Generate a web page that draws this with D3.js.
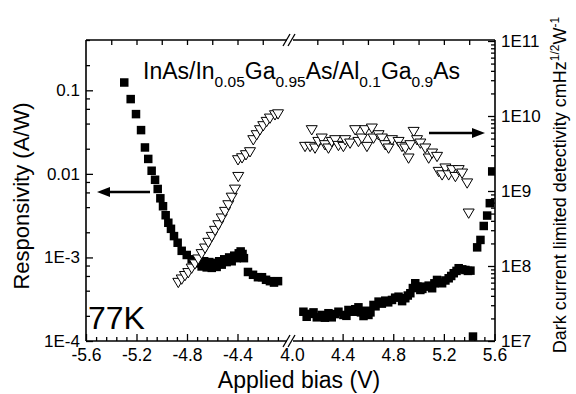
<!DOCTYPE html>
<html>
<head>
<meta charset="utf-8">
<script src="https://cdn.jsdelivr.net/npm/d3@7"></script>
<style>
  body { margin: 0; background: #fff; }
  text { font-family: Arial, "Liberation Sans", sans-serif; fill: #000; }
</style>
</head>
<body>
<div id="chart"></div>
<script>
// responsivity (A/W), filled squares, left axis
var respLeftV = [-5.297, -5.246, -5.204, -5.164, -5.133, -5.107, -5.080, -5.053, -5.032, -5.011,
    -4.990, -4.969, -4.948, -4.927, -4.903, -4.874, -4.842, -4.802, -4.763, -4.723,
    -4.684, -4.664, -4.644, -4.624, -4.604, -4.584, -4.565, -4.545, -4.525, -4.505,
    -4.486, -4.466, -4.446, -4.426, -4.406, -4.390, -4.375, -4.360, -4.349,
    -4.317, -4.277, -4.238, -4.206, -4.174, -4.143, -4.111, -4.079];
var respLeftR = [0.124, 0.0785, 0.0519, 0.0334, 0.0207, 0.0151, 0.0109, 0.0085, 0.0066, 0.0051,
    0.0041, 0.0032, 0.0026, 0.0022, 0.0018, 0.0015, 0.0012, 0.00107, 0.00095, 0.00085,
    0.00078, 0.00090, 0.00076, 0.00088, 0.00075, 0.00086, 0.00077, 0.00090, 0.00082, 0.00095,
    0.00088, 0.00100, 0.00090, 0.00105, 0.00098, 0.00112, 0.00118, 0.00110, 0.00098,
    0.00067, 0.00062, 0.00058, 0.00058, 0.00054, 0.00052, 0.00050, 0.00052];

var respRightV = [4.090, 4.116, 4.143, 4.170, 4.196, 4.235, 4.260, 4.288, 4.314, 4.340,
    4.367, 4.406, 4.430, 4.446, 4.486, 4.500, 4.525, 4.545, 4.565, 4.585,
    4.604, 4.620, 4.644, 4.660, 4.684, 4.710, 4.737, 4.760, 4.790, 4.815,
    4.842, 4.870, 4.895, 4.915, 4.935, 4.955, 4.974, 4.990, 5.014, 5.030,
    5.053, 5.080, 5.107, 5.125, 5.146, 5.166, 5.186, 5.212, 5.238, 5.258,
    5.278, 5.300, 5.317, 5.345, 5.370, 5.390, 5.410,
    5.430, 5.463, 5.489, 5.515, 5.542, 5.563, 5.582];
var respRightR = [2.24e-4, 1.95e-4, 2.11e-4, 2.20e-4, 1.92e-4, 2.05e-4, 1.90e-4, 2.15e-4, 1.92e-4, 2.10e-4,
    2.24e-4, 2.05e-4, 2.00e-4, 2.35e-4, 2.24e-4, 2.40e-4, 2.53e-4, 2.20e-4, 1.99e-4, 2.30e-4,
    2.05e-4, 2.20e-4, 2.70e-4, 2.60e-4, 2.96e-4, 2.80e-4, 3.04e-4, 2.90e-4, 3.10e-4, 3.30e-4,
    3.39e-4, 3.00e-4, 3.25e-4, 3.50e-4, 3.73e-4, 4.30e-4, 4.91e-4, 4.50e-4, 4.08e-4, 4.20e-4,
    4.47e-4, 4.60e-4, 4.28e-4, 4.90e-4, 5.38e-4, 5.00e-4, 4.91e-4, 5.30e-4, 5.63e-4, 6.00e-4,
    6.47e-4, 6.90e-4, 7.43e-4, 7.20e-4, 7.08e-4, 6.90e-4, 6.95e-4,
    1.13e-4, 1.32e-3, 1.62e-3, 2.38e-3, 3.17e-3, 4.46e-3, 1.07e-2];

// detectivity (cmHz^1/2 W^-1), open down triangles, right axis
var detLeftV = [-4.869, -4.842, -4.816, -4.790, -4.763, -4.737, -4.711, -4.684, -4.657, -4.631,
    -4.604, -4.578, -4.552, -4.525, -4.499, -4.473, -4.446, -4.420, -4.394,
    -4.396, -4.364, -4.333, -4.301, -4.275, -4.248, -4.222, -4.196, -4.169, -4.143, -4.103, -4.079];
var detLeftD = [6.0e7, 6.65e7, 7.4e7, 8.1e7, 9.3e7, 1.06e8, 1.23e8, 1.45e8, 1.72e8, 2.05e8,
    2.46e8, 2.96e8, 3.52e8, 4.33e8, 5.3e8, 6.5e8, 8.2e8, 1.05e9, 1.55e9,
    2.59e9, 2.75e9, 3.02e9, 3.31e9, 4.79e9, 5.58e9, 6.5e9, 7.36e9, 8.4e9, 9.3e9, 1.03e10, 1.06e10];

var detRightV = [4.103, 4.143, 4.156, 4.182, 4.208, 4.235, 4.261, 4.288, 4.314, 4.341,
    4.367, 4.406, 4.420, 4.459, 4.499, 4.525, 4.552, 4.578, 4.592, 4.631,
    4.644, 4.684, 4.710, 4.737, 4.763, 4.790, 4.842, 4.869, 4.895, 4.921,
    4.935, 4.961, 4.988, 5.014, 5.053, 5.080, 5.107, 5.146, 5.159, 5.186,
    5.212, 5.238, 5.265, 5.291, 5.317, 5.344, 5.384, 5.396];
var detRightD = [3.90e9, 3.90e9, 6.51e9, 3.71e9, 4.54e9, 5.04e9, 4.11e9, 3.71e9, 4.54e9, 4.79e9,
    4.02e9, 3.90e9, 4.79e9, 4.32e9, 6.51e9, 4.54e9, 5.04e9, 6.51e9, 3.90e9, 6.85e9,
    5.04e9, 5.58e9, 5.04e9, 4.11e9, 3.71e9, 4.79e9, 4.54e9, 3.90e9, 3.71e9, 2.73e9,
    4.11e9, 6.18e9, 4.79e9, 4.32e9, 3.71e9, 2.73e9, 3.18e9, 2.87e9, 1.81e9, 1.63e9,
    2.01e9, 1.63e9, 1.91e9, 1.55e9, 1.91e9, 1.72e9, 1.27e9, 5.04e8];

// ticks
var xTicksLeft = [-5.6, -5.2, -4.8, -4.4];
var xTicksRight = [4.0, 4.4, 4.8, 5.2, 5.6];
var yLeftTicks = [1e-4, 1e-3, 1e-2, 1e-1];
var yLeftLabels = ["1E-4", "1E-3", "0.01", "0.1"];
var yRightTicks = [1e7, 1e8, 1e9, 1e10, 1e11];
var yRightLabels = ["1E7", "1E8", "1E9", "1E10", "1E11"];

var W = 576, H = 394;
var pLeft = 86, pRight = 495, pTop = 40, pBottom = 341;

var svg = d3.select("#chart").append("svg")
    .attr("width", W)
    .attr("height", H);

svg.append("rect").attr("width", W).attr("height", H).attr("fill", "#fff");

// broken x axis: two linear pieces
var xL = d3.scaleLinear().domain([-5.6, -4.0]).range([86, 288]);
var xR = d3.scaleLinear().domain([4.0, 5.6]).range([292, 494.5]);
function xs(v) { return v < 0 ? xL(v) : xR(v); }

var yL = d3.scaleLog().domain([1e-4, 0.4]).range([pBottom, pTop]);
var yR = d3.scaleLog().domain([1e7, 1e11]).range([pBottom, 41]);

function fmt1(d) { return d.toFixed(1); }
function minorSteps(a, b, step, majors) {
    var out = [];
    for (var i = 1; a + i * step < b - 1e-6; i++) {
        var v = +(a + i * step).toFixed(2);
        if (majors.indexOf(v) < 0) out.push(v);
    }
    return out;
}

var axes = svg.append("g").attr("class", "axes");

function styleAxis(g, fs) {
    g.select(".domain").remove();
    g.selectAll("line").attr("stroke", "#000").attr("stroke-width", 1.3);
    g.selectAll("text").style("font-size", fs + "px").attr("fill", "#000")
        .style("font-family", "Arial, 'Liberation Sans', sans-serif");
}

// bottom axis
axes.append("g").attr("transform", "translate(0," + pBottom + ")")
    .call(d3.axisBottom(xL).tickValues(xTicksLeft).tickSize(-7).tickPadding(8).tickFormat(fmt1))
    .call(styleAxis, 17.5);
axes.append("g").attr("class", "xr").attr("transform", "translate(0," + pBottom + ")")
    .call(d3.axisBottom(xR).tickValues(xTicksRight).tickSize(-7).tickPadding(8).tickFormat(fmt1))
    .call(styleAxis, 17.5);
axes.append("g").attr("transform", "translate(0," + pBottom + ")")
    .call(d3.axisBottom(xL).tickValues(minorSteps(-5.6, -4.0, 0.08, xTicksLeft)).tickSize(-4).tickFormat(""))
    .call(styleAxis, 17);
axes.append("g").attr("transform", "translate(0," + pBottom + ")")
    .call(d3.axisBottom(xR).tickValues(minorSteps(4.0, 5.6, 0.08, xTicksRight)).tickSize(-4).tickFormat(""))
    .call(styleAxis, 17);
// the 4.0 label sits on the break, drop its tick
axes.select("g.xr").selectAll("g.tick").filter(function(d) { return d === 4.0; }).select("line").remove();

// top axis
axes.append("g").attr("transform", "translate(0," + pTop + ")")
    .call(d3.axisTop(xL).tickValues(minorSteps(-5.6, -4.0, 0.2, [])).tickSize(-5).tickFormat(""))
    .call(styleAxis, 17);
axes.append("g").attr("transform", "translate(0," + pTop + ")")
    .call(d3.axisTop(xR).tickValues(minorSteps(4.0, 5.6, 0.2, [])).tickSize(-5).tickFormat(""))
    .call(styleAxis, 17);

// left axis
var leftMinor = [];
[1e-4, 1e-3, 1e-2, 1e-1].forEach(function(p) {
    [2, 4, 6, 8].forEach(function(m) { if (p * m <= 0.4) leftMinor.push(p * m); });
});
axes.append("g").attr("transform", "translate(" + pLeft + ",0)")
    .call(d3.axisLeft(yL).tickValues(yLeftTicks).tickSize(-7).tickPadding(6)
        .tickFormat(function(d, i) { return yLeftLabels[i]; }))
    .call(styleAxis, 17);
axes.append("g").attr("transform", "translate(" + pLeft + ",0)")
    .call(d3.axisLeft(yL).tickValues(leftMinor).tickSize(-4).tickFormat(""))
    .call(styleAxis, 17);

// right axis
var rightMinor = [];
[1e7, 1e8, 1e9, 1e10].forEach(function(p) {
    for (var m = 2; m <= 9; m++) rightMinor.push(p * m);
});
axes.append("g").attr("transform", "translate(" + pRight + ",0)")
    .call(d3.axisRight(yR).tickValues(yRightTicks).tickSize(-7).tickPadding(6)
        .tickFormat(function(d, i) { return yRightLabels[i]; }))
    .call(styleAxis, 17);
axes.append("g").attr("transform", "translate(" + pRight + ",0)")
    .call(d3.axisRight(yR).tickValues(rightMinor).tickSize(-4).tickFormat(""))
    .call(styleAxis, 17);

// frame with gaps at the break
var frame = axes.append("g").attr("stroke", "#000").attr("stroke-width", 1.6).attr("fill", "none");
frame.append("line").attr("x1", pLeft).attr("x2", pLeft).attr("y1", pTop).attr("y2", pBottom);
frame.append("line").attr("x1", pRight).attr("x2", pRight).attr("y1", pTop).attr("y2", pBottom);
[pTop, pBottom].forEach(function(yy) {
    frame.append("line").attr("x1", pLeft).attr("x2", 287).attr("y1", yy).attr("y2", yy);
    frame.append("line").attr("x1", 293).attr("x2", pRight).attr("y1", yy).attr("y2", yy);
    frame.append("line").attr("x1", 283).attr("x2", 290).attr("y1", yy + 6).attr("y2", yy - 6).attr("stroke-width", 1.3);
    frame.append("line").attr("x1", 288).attr("x2", 295).attr("y1", yy + 6).attr("y2", yy - 6).attr("stroke-width", 1.3);
});

// data
svg.append("clipPath").attr("id", "clip")
    .append("rect").attr("x", pLeft).attr("y", pTop).attr("width", pRight - pLeft).attr("height", pBottom - pTop);
var plot = svg.append("g").attr("clip-path", "url(#clip)");

var resp = respLeftV.map(function(v, i) { return {x: v, y: respLeftR[i]}; })
    .concat(respRightV.map(function(v, i) { return {x: v, y: respRightR[i]}; }));
var det = detLeftV.map(function(v, i) { return {x: v, y: detLeftD[i]}; })
    .concat(detRightV.map(function(v, i) { return {x: v, y: detRightD[i]}; }));

var sq = 8.5;
plot.selectAll("rect.resp").data(resp).enter().append("rect")
    .attr("class", "resp")
    .attr("x", function(d) { return xs(d.x) - sq / 2; })
    .attr("y", function(d) { return yL(d.y) - sq / 2; })
    .attr("width", sq).attr("height", sq)
    .attr("fill", "#000");

var tri = "M-5.5,-4.3L5.5,-4.3L0,5Z";
plot.selectAll("path.det").data(det).enter().append("path")
    .attr("class", "det")
    .attr("d", tri)
    .attr("transform", function(d) { return "translate(" + xs(d.x) + "," + yR(d.y) + ")"; })
    .attr("fill", "#fff")
    .attr("stroke", "#000")
    .attr("stroke-width", 1);

// arrows
var arr = svg.append("g");
arr.append("line").attr("x1", 150).attr("x2", 106).attr("y1", 192).attr("y2", 192)
    .attr("stroke", "#000").attr("stroke-width", 2.5);
arr.append("path").attr("d", "M97,192L110,187L110,197Z").attr("fill", "#000");
arr.append("line").attr("x1", 429).attr("x2", 476).attr("y1", 133).attr("y2", 133)
    .attr("stroke", "#000").attr("stroke-width", 2.5);
arr.append("path").attr("d", "M485,133L472,128L472,138Z").attr("fill", "#000");

// title
var title = svg.append("text").attr("x", 143).attr("y", 79).style("font-size", "23px");
var parts = [["InAs/In", 0], ["0.05", 1], ["Ga", 0], ["0.95", 1], ["As/Al", 0], ["0.1", 1], ["Ga", 0], ["0.9", 1], ["As", 0]];
parts.forEach(function(p, i) {
    var t = title.append("tspan").text(p[0]);
    if (p[1]) t.style("font-size", "15.5px").attr("dy", 7.5);
    else if (i > 0) t.attr("dy", -7.5);
});

svg.append("text").attr("x", 88).attr("y", 329).style("font-size", "32px").text("77K");

// axis titles
svg.append("text").attr("transform", "translate(29,196) rotate(-90)")
    .attr("text-anchor", "middle").style("font-size", "22px").text("Responsivity (A/W)");
svg.append("text").attr("x", 299).attr("y", 388)
    .attr("text-anchor", "middle").style("font-size", "23px").text("Applied bias (V)");

var rl = svg.append("text").attr("transform", "translate(566,185) rotate(-90)")
    .attr("text-anchor", "middle").style("font-size", "18px");
rl.append("tspan").text("Dark current limited detectivity cmHz");
rl.append("tspan").text("1/2").style("font-size", "12px").attr("dy", -7);
rl.append("tspan").text("W").attr("dy", 7);
rl.append("tspan").text("-1").style("font-size", "12px").attr("dy", -7);
</script>
</body>
</html>
